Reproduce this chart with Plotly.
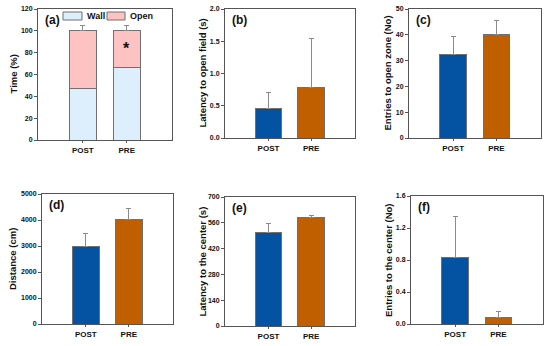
import plotly.graph_objects as go

categories = ["POST", "PRE"]

# (a) stacked percentages
wall_pct = [47, 66.5]
wall_err_top = [50, 71.5]
open_pct = [53, 33.5]
open_err_top = [105, 105]

# single-series panels: values and upper error ends
lat_open = [0.46, 0.78]
lat_open_err = [0.71, 1.54]
entries_open = [32.5, 40.0]
entries_open_err = [39.3, 45.6]
distance = [3000, 4020]
distance_err = [3480, 4430]
lat_center = [505, 588]
lat_center_err = [557, 600]
entries_center = [0.83, 0.08]
entries_center_err = [1.34, 0.16]

legend_labels = ["Wall", "Open"]

BLUE = "#0452A2"
ORANGE = "#C05F00"
WALL = "#DDEEFC"
OPEN = "#FDC3C3"
EDGE = "#707070"
FONT = "Liberation Sans, Arial, sans-serif"

fig = go.Figure()

def err(vals, tops):
    return dict(type="data", symmetric=False,
                array=[t - v for v, t in zip(vals, tops)],
                arrayminus=[0] * len(vals),
                color="#8a8a8a", thickness=1, width=2.5)

# panel a
fig.add_trace(go.Bar(x=categories, y=wall_pct, name="Wall", marker=dict(color=WALL, line=dict(color=EDGE, width=1)),
                     error_y=err(wall_pct, wall_err_top), width=0.62, xaxis="x", yaxis="y", showlegend=False))
fig.add_trace(go.Bar(x=categories, y=open_pct, name="Open", marker=dict(color=OPEN, line=dict(color=EDGE, width=1)),
                     error_y=err([w + o for w, o in zip(wall_pct, open_pct)], open_err_top), width=0.62,
                     xaxis="x", yaxis="y", showlegend=False))

panels = [
    ("x2", "y2", lat_open, lat_open_err),
    ("x3", "y3", entries_open, entries_open_err),
    ("x4", "y4", distance, distance_err),
    ("x5", "y5", lat_center, lat_center_err),
    ("x6", "y6", entries_center, entries_center_err),
]
for xa, ya, vals, tops in panels:
    fig.add_trace(go.Bar(x=categories, y=vals, marker=dict(color=[BLUE, ORANGE], line=dict(color=EDGE, width=1)),
                         error_y=err(vals, tops), width=0.62, xaxis=xa, yaxis=ya, showlegend=False))

W, H = 550, 346
def dx(a, b):
    return [a / W, b / W]
def dy(top, bottom):
    return [1 - bottom / H, 1 - top / H]

specs = [
    # xdomain, ydomain, yrange, dtick, title, title x(px), tickformat, label
    (dx(38, 172), dy(9, 140), [0, 120], 20, "Time (%)", 13, "d", "(a)"),
    (dx(225, 355), dy(9, 138), [0, 2.0], 0.5, "Latency to open field (s)", 202, ".1f", "(b)"),
    (dx(409, 541), dy(9, 138), [0, 50], 10, "Entries to open zone (No)", 387, "d", "(c)"),
    (dx(42, 173), dy(194, 324), [0, 5000], 1000, "Distance (cm)", 12, "d", "(d)"),
    (dx(225, 355), dy(197, 326), [0, 700], 140, "Latency to the center (s)", 202, "d", "(e)"),
    (dx(411, 543), dy(196, 324), [0, 1.6], 0.4, "Entries to the center (No)", 388, ".1f", "(f)"),
]

layout = dict(
    width=W, height=H, margin=dict(l=0, r=0, t=0, b=0, autoexpand=False),
    paper_bgcolor="white", plot_bgcolor="white",
    barmode="stack", font=dict(family=FONT, color="#111"),
    showlegend=False,
    annotations=[], shapes=[],
)
for i, (xd, yd, yr, dt, title, tx, fmt, lab) in enumerate(specs, start=1):
    s = "" if i == 1 else str(i)
    layout["xaxis" + s] = dict(domain=xd, anchor="y" + s, range=[-1.02, 2.03], showline=True, mirror=True,
                               linecolor="#555", linewidth=1, ticks="outside", ticklen=2, tickcolor="#555",
                               showgrid=False, automargin=False,
                               tickfont=dict(size=8, family=FONT, weight="bold"), fixedrange=True)
    layout["yaxis" + s] = dict(domain=yd, anchor="x" + s, range=yr, dtick=dt, tickformat=fmt, showline=True,
                               mirror=True, linecolor="#555", linewidth=1, ticks="outside", ticklen=3,
                               tickcolor="#555", showgrid=False, zeroline=False, automargin=False,
                               tickfont=dict(size=7, family=FONT, weight="bold"))
    layout["annotations"].append(dict(text=title, xref="paper", yref="paper", x=tx / W, y=(yd[0] + yd[1]) / 2,
                                      xanchor="center", yanchor="middle", textangle=-90, showarrow=False,
                                      font=dict(size=9.5, family=FONT, weight="bold")))
    layout["annotations"].append(dict(text=lab, xref="x" + s + " domain", yref="y" + s + " domain", x=0.04, y=0.985,
                                      xanchor="left", yanchor="top", showarrow=False,
                                      font=dict(size=12, family=FONT, weight="bold")))

layout["annotations"].append(dict(text="*", xref="x", yref="y", x="PRE", y=84, showarrow=False,
                                  font=dict(size=16, family=FONT, weight="bold")))

# legend for panel (a), drawn as boxes + labels in paper space
for (x0, x1, tx), lab, col in zip([(63, 82, 85), (107, 125, 128)], legend_labels, [WALL, OPEN]):
    layout["shapes"].append(dict(type="rect", xref="paper", yref="paper", x0=x0 / W, x1=x1 / W,
                                 y0=1 - 20 / H, y1=1 - 12 / H, fillcolor=col, line=dict(color=EDGE, width=1)))
    layout["annotations"].append(dict(text=lab, xref="paper", yref="paper", x=tx / W, y=1 - 16 / H,
                                      xanchor="left", yanchor="middle", showarrow=False,
                                      font=dict(size=9, family=FONT, weight="bold")))

fig.update_layout(**layout)
fig.write_html("out.html", config={"displayModeBar": False},
               post_script="document.body.style.margin='0';document.body.style.overflow='hidden';")
